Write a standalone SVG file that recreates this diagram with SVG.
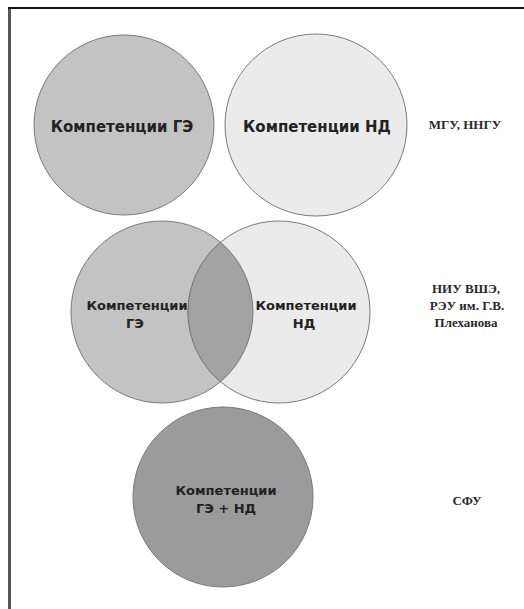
<svg xmlns="http://www.w3.org/2000/svg" width="524" height="609" viewBox="0 0 524 609">
<style>
.c{stroke:#7a7a7a;stroke-width:1}
.dark{fill:#c3c3c3}
.light{fill:#ebebeb}
.t{font-family:"DejaVu Sans",Verdana,sans-serif;font-weight:bold;fill:#222222;text-anchor:middle}
.s{font-family:"Liberation Serif","Times New Roman",serif;font-weight:bold;font-size:13px;fill:#2a2a2a;text-anchor:middle}
</style>
<rect width="524" height="609" fill="#ffffff"/>
<g id="frame">
<line x1="9.5" y1="8" x2="9.5" y2="609" stroke="#555" stroke-width="3"/>
<line x1="8" y1="8" x2="524" y2="8" stroke="#111" stroke-width="2"/>
</g>
<g id="connectors"></g>
<g id="row1">
<g id="ge1"><circle class="c dark" cx="124" cy="125" r="90"/><text class="t" x="122" y="132" font-size="15">Компетенции ГЭ</text></g>
<g id="nd1"><circle class="c light" cx="316" cy="125" r="91"/><text class="t" x="317" y="132" font-size="15">Компетенции НД</text></g>
<g id="lbl1"><text class="s" x="465" y="129">МГУ, ННГУ</text></g>
</g>
<g id="row2">
<g id="ge2"><circle class="c dark" cx="162" cy="312" r="91"/></g>
<g id="nd2"><circle class="c light" cx="279" cy="312" r="91"/></g>
<g id="overlap"><path class="c" fill="#a3a3a3" d="M220.5 242.3 A91 91 0 0 1 220.5 381.7 A91 91 0 0 1 220.5 242.3 Z"/></g>
<text class="t" x="137" y="310" font-size="13">Компетенции</text>
<text class="t" x="135" y="328" font-size="13">ГЭ</text>
<text class="t" x="306" y="310" font-size="13">Компетенции</text>
<text class="t" x="304" y="328" font-size="13">НД</text>
<g id="lbl2">
<text class="s" x="466" y="293">НИУ ВШЭ,</text>
<text class="s" x="467" y="310">РЭУ им. Г.В.</text>
<text class="s" x="466" y="327">Плеханова</text>
</g>
</g>
<g id="row3">
<g id="genD"><circle class="c" fill="#9b9b9b" cx="223" cy="497" r="90"/>
<text class="t" x="226" y="495" font-size="13">Компетенции</text>
<text class="t" x="226" y="513" font-size="13">ГЭ + НД</text></g>
<g id="lbl3"><text class="s" x="467" y="505">СФУ</text></g>
</g>
</svg>
